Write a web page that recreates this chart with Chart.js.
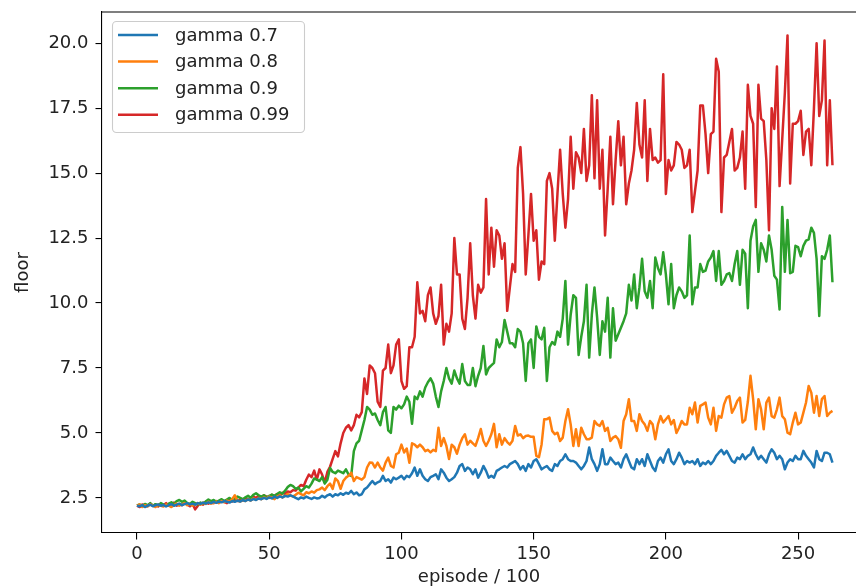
<!DOCTYPE html>
<html>
<head>
<meta charset="utf-8">
<script src="https://cdn.jsdelivr.net/npm/chart.js@4/dist/chart.umd.min.js"></script>
<style>
  html, body { margin: 0; padding: 0; background: #fff; overflow: hidden; }
  #wrap { width: 856px; height: 588px; }
</style>
</head>
<body>
<div id="wrap"><canvas id="c" width="856" height="588"></canvas></div>
<script>
// Mean floor reached per block of 100 episodes, one run per discount factor.
const gamma07 = [
  2.2, 2.18, 2.22, 2.15, 2.2, 2.24, 2.18, 2.22, 2.25, 2.2,
  2.23, 2.17, 2.22, 2.26, 2.2, 2.24, 2.28, 2.22, 2.26, 2.3,
  2.25, 2.28, 2.24, 2.3, 2.27, 2.32, 2.28, 2.33, 2.3, 2.35,
  2.31, 2.36, 2.33, 2.38, 2.35, 2.32, 2.38, 2.35, 2.4, 2.36,
  2.42, 2.38, 2.44, 2.4, 2.46, 2.42, 2.48, 2.45, 2.5, 2.46,
  2.52, 2.48, 2.55, 2.5, 2.56, 2.52, 2.58, 2.55, 2.6, 2.56,
  2.5, 2.45, 2.52, 2.48, 2.55, 2.5, 2.46, 2.52, 2.48, 2.5,
  2.58, 2.52, 2.6, 2.64, 2.55, 2.64, 2.6, 2.68, 2.62, 2.7,
  2.66, 2.77, 2.64, 2.71, 2.6, 2.64, 2.83, 2.9, 3.03, 3.15,
  3.03, 3.1, 3.15, 3.35, 3.15, 3.22, 3.09, 3.28, 3.22, 3.28,
  3.35, 3.22, 3.35, 3.3, 3.45, 3.67, 3.35, 3.6, 3.35, 3.22,
  3.15, 3.3, 3.35, 3.41, 3.22, 3.6, 3.47, 3.28, 3.15, 3.22,
  3.3, 3.47, 3.73, 3.8, 3.54, 3.67, 3.6, 3.41, 3.6, 3.28,
  3.47, 3.73, 3.54, 3.28, 3.35, 3.28, 3.54, 3.6, 3.67, 3.73,
  3.67, 3.8, 3.86, 3.92, 3.8, 3.6, 3.73, 3.54, 3.8, 3.67,
  3.92, 3.99, 3.8, 3.6, 3.67, 3.73, 3.6, 3.54, 3.8, 3.73,
  3.92, 3.99, 4.18, 3.99, 3.92, 3.92, 3.86, 3.73, 3.6, 3.73,
  3.92, 4.44, 3.99, 3.8, 3.54, 3.8, 4.37, 3.8, 3.8, 4.05,
  3.92, 3.8, 3.86, 3.67, 3.99, 4.18, 3.92, 3.67, 3.6, 3.99,
  3.8, 3.99, 3.73, 4.18, 3.92, 3.67, 3.54, 3.92, 4.05, 3.86,
  4.18, 4.37, 3.92, 3.8, 3.99, 4.24, 4.05, 3.8, 3.92, 3.86,
  3.92, 3.8, 3.99, 3.73, 3.86, 3.8, 3.92, 3.8, 3.92, 4.12,
  4.24, 4.35, 4.18, 4.31, 4.12, 3.92, 3.86, 4.05, 3.99, 4.18,
  3.99, 4.12, 4.18, 4.44, 4.18, 3.99, 4.12, 3.99, 3.86, 4.18,
  4.37, 4.24, 3.99, 4.12, 3.99, 3.6, 3.86, 3.99, 3.92, 4.12,
  3.99, 3.99, 4.31, 4.12, 3.99, 3.86, 3.67, 4.31, 3.99, 3.92,
  4.24, 4.24, 4.18, 3.86
];

const gamma08 = [
  2.2, 2.25, 2.15, 2.22, 2.18, 2.26, 2.2, 2.15, 2.24, 2.2,
  2.17, 2.25, 2.2, 2.15, 2.22, 2.28, 2.2, 2.25, 2.3, 2.22,
  2.27, 2.2, 2.25, 2.3, 2.24, 2.32, 2.27, 2.35, 2.28, 2.3,
  2.36, 2.3, 2.38, 2.33, 2.4, 2.35, 2.45, 2.6, 2.4, 2.36,
  2.42, 2.38, 2.45, 2.4, 2.48, 2.43, 2.5, 2.45, 2.52, 2.48,
  2.55, 2.5, 2.45, 2.55, 2.6, 2.52, 2.58, 2.65, 2.6, 2.55,
  2.62, 2.7, 2.65, 2.6, 2.72, 2.68, 2.75, 2.7, 2.8, 2.83,
  2.9, 2.8, 2.95, 3.05, 2.85, 3.25, 3.15, 2.85, 3.15, 3.28,
  3.35, 3.47, 3.15, 3.3, 3.25, 3.2, 3.3, 3.67, 3.86, 3.85,
  3.67, 3.86, 3.67, 3.55, 3.86, 4.05, 3.73, 3.67, 4.18, 4.24,
  4.55, 4.25, 4.4, 3.85, 4.6, 4.55, 4.45, 4.55, 4.45, 4.3,
  4.35, 4.25, 4.35, 4.3, 5.2, 4.5, 4.8, 4.5, 4.0, 4.55,
  4.45, 4.2, 4.55, 4.8, 4.95, 4.55, 4.7, 4.6, 4.5, 4.8,
  5.15, 4.7, 4.5, 4.7, 4.95, 5.35, 4.45, 4.95, 4.55, 4.8,
  4.65, 4.55, 4.7, 5.27, 4.9, 4.95, 4.8, 4.88, 4.9, 4.85,
  4.85, 4.12, 4.07, 4.56, 5.53, 5.53, 5.59, 5.08, 4.95, 5.01,
  4.69, 4.82, 5.46, 5.91, 5.33, 4.5, 5.14, 4.5, 5.2, 4.95,
  4.76, 4.76, 4.82, 5.46, 5.33, 5.27, 5.46, 5.08, 5.2, 4.69,
  4.82, 4.88, 4.76, 4.43, 5.46, 5.72, 6.3, 5.46, 5.46, 5.08,
  5.72, 5.46, 5.33, 5.08, 5.46, 5.33, 4.76, 5.33, 5.65, 5.4,
  5.53, 5.65, 5.33, 5.5, 5.0, 5.2, 5.46, 5.33, 5.33, 5.97,
  5.72, 6.17, 5.4, 6.04, 6.1, 6.17, 5.59, 5.33, 5.97, 5.08,
  5.65, 5.59, 6.1, 6.36, 6.42, 5.78, 5.97, 6.23, 6.36, 5.4,
  5.5, 6.2, 7.2, 6.3, 5.14, 6.3, 5.91, 5.14, 6.17, 6.36,
  5.65, 5.59, 5.91, 6.36, 5.65, 5.53, 5.01, 4.95, 5.4, 5.78,
  5.33, 5.4, 5.78, 6.17, 6.81, 6.55, 5.78, 6.42, 5.65, 6.3,
  6.42, 5.65, 5.78, 5.85
];

const gamma09 = [
  2.2, 2.25, 2.18, 2.27, 2.22, 2.3, 2.2, 2.26, 2.21, 2.3,
  2.24, 2.2, 2.28, 2.33, 2.25, 2.38, 2.42, 2.35, 2.4, 2.3,
  2.27, 2.35, 2.3, 2.25, 2.32, 2.28, 2.36, 2.44, 2.38, 2.42,
  2.35, 2.4, 2.45, 2.38, 2.44, 2.5, 2.42, 2.48, 2.55, 2.5,
  2.45, 2.52, 2.58, 2.5, 2.62, 2.68, 2.6, 2.55, 2.6, 2.52,
  2.58, 2.63, 2.57, 2.65, 2.72, 2.66, 2.78, 2.92, 3.0, 2.95,
  2.85, 2.9, 2.75, 2.85, 2.95, 2.9, 3.05, 3.25, 3.2, 3.15,
  3.3, 3.05, 3.2, 3.65, 3.5, 3.45, 3.55, 3.5, 3.45, 3.6,
  3.4, 3.35, 4.3, 4.6, 4.7, 5.1, 5.5, 6.0, 5.9, 5.7,
  5.75, 5.5, 5.3, 5.8, 6.0, 5.1, 5.0, 6.0, 5.9, 6.05,
  5.95, 6.1, 6.4, 6.2, 5.35, 6.4, 6.3, 6.6, 6.4, 6.75,
  6.95, 7.1, 6.9, 6.4, 6.0, 6.6, 7.0, 7.5, 7.1, 6.9,
  7.4, 7.1, 6.9, 7.65, 7.0, 6.85, 6.85, 7.5, 6.8, 7.2,
  7.5, 8.35, 7.25, 7.5, 7.6, 7.7, 8.6, 8.3, 8.5, 9.35,
  8.9, 8.45, 8.45, 8.3, 9.0, 8.9, 8.45, 7.0, 8.45, 8.6,
  7.5, 9.1, 8.7, 8.6, 9.05, 7.0, 8.3, 8.5, 8.4, 8.9,
  8.7, 9.4, 10.85, 8.4, 9.55, 10.3, 10.2, 8.0, 8.7, 9.3,
  10.7, 7.9, 9.55, 10.6, 9.45, 8.0, 9.3, 8.9, 10.2, 7.9,
  9.8, 8.55, 8.8, 9.05, 9.3, 9.6, 10.7, 10.1, 11.1, 9.8,
  10.6, 11.7, 10.45, 10.2, 10.85, 9.8, 11.75, 11.35, 11.1, 11.95,
  11.1, 9.95, 11.5, 9.8, 10.3, 10.6, 10.45, 10.2, 10.3, 12.6,
  9.95, 10.6, 10.6, 11.5, 11.2, 11.25, 11.6, 11.75, 12.0, 10.85,
  12.0, 10.7, 10.85, 11.1, 11.15, 10.85, 11.5, 12.0, 10.7, 12.05,
  11.9, 9.8, 12.4, 12.95, 13.2, 11.2, 12.3, 12.05, 11.6, 12.6,
  12.05, 11.05, 10.9, 9.75, 13.7, 11.2, 13.2, 11.15, 11.2, 12.2,
  12.15, 11.8, 12.2, 12.4, 12.45, 12.9, 12.7, 11.7, 9.5, 11.8,
  11.7, 12.05, 12.6, 10.8
];

const gamma099 = [
  2.2, 2.15, 2.25, 2.2, 2.18, 2.28, 2.2, 2.24, 2.17, 2.26,
  2.22, 2.3, 2.2, 2.25, 2.32, 2.2, 2.27, 2.22, 2.3, 2.25,
  2.18, 2.28, 2.06, 2.2, 2.3, 2.24, 2.35, 2.28, 2.33, 2.3,
  2.38, 2.32, 2.4, 2.35, 2.3, 2.42, 2.36, 2.45, 2.38, 2.43,
  2.4, 2.5, 2.44, 2.48, 2.55, 2.5, 2.58, 2.52, 2.6, 2.55,
  2.5, 2.62, 2.58, 2.65, 2.6, 2.7, 2.66, 2.75, 2.72, 2.8,
  2.78, 2.9, 3.0, 2.95, 3.2, 3.4, 3.3, 3.55, 3.2, 3.6,
  3.4, 3.1, 3.5, 3.7, 4.0, 4.3, 4.1, 4.6, 5.0, 5.2,
  5.3, 5.1, 5.3, 5.7, 5.6, 5.8, 7.1, 6.5, 7.6, 7.5,
  7.3, 6.2, 6.0, 7.4, 7.5, 8.4, 7.3, 7.6, 8.4, 8.6,
  7.0, 6.7, 6.8, 8.3, 8.3, 8.7, 10.8, 9.6, 9.7, 9.3,
  10.3, 10.6, 9.6, 9.2, 9.5, 10.7, 8.4, 9.2, 8.9, 9.6,
  12.5, 11.1, 11.1, 9.4, 9.0, 10.2, 12.3, 10.3, 9.4, 10.7,
  10.4, 10.6, 14.0, 11.1, 12.9, 11.4, 12.8, 12.6, 11.7, 12.3,
  9.7, 10.6, 11.5, 11.2, 15.2, 16.0, 14.2, 11.1, 12.6, 14.2,
  12.4, 12.8, 10.9, 11.6, 11.5, 14.7, 15.0, 14.4, 12.4, 14.2,
  15.9, 14.2, 12.9, 14.0, 16.4, 14.4, 15.8, 15.6, 15.0, 16.7,
  14.7, 15.3, 18.0, 14.8, 17.8, 14.4, 15.9, 12.6, 14.4, 16.4,
  13.8, 15.5, 17.0, 15.3, 16.4, 13.8, 14.6, 15.1, 15.9, 17.7,
  16.1, 15.6, 17.8, 14.7, 16.7, 15.5, 15.6, 15.4, 15.5, 18.8,
  14.2, 15.5, 15.1, 15.3, 16.2, 16.1, 15.9, 15.2, 15.3, 15.9,
  13.5, 14.3, 15.1, 17.6, 17.6, 16.5, 15.0, 16.5, 16.6, 19.4,
  18.9, 13.5, 15.6, 15.7, 16.2, 16.7, 15.1, 15.2, 15.6, 16.6,
  14.4, 18.4, 17.2, 16.9, 13.7, 18.4, 17.1, 17.0, 15.5, 12.8,
  17.5, 16.7, 19.1, 14.5, 16.3, 18.1, 20.3, 14.6, 16.9, 16.9,
  17.0, 17.4, 15.7, 16.6, 16.7, 15.3, 17.5, 20.0, 17.2, 17.8,
  20.1, 15.3, 17.8, 15.3
];

const seriesLabels = ['gamma 0.7', 'gamma 0.8', 'gamma 0.9', 'gamma 0.99'];
const seriesColors = ['#1f77b4', '#ff7f0e', '#2ca02c', '#d62728'];
const xTicks = [0, 50, 100, 150, 200, 250];
const yTicks = [2.5, 5.0, 7.5, 10.0, 12.5, 15.0, 17.5, 20.0];

// One x position per block of 100 episodes.
const episodes = gamma07.map((_, i) => i);

const FONT = { family: '"DejaVu Sans", sans-serif', size: 18, lineHeight: 1.2 };
const TEXT = '#222';

// Keep the plot area exactly where the layout padding puts it.
function noScalePadding(s) {
  s.paddingTop = 0;
  s.paddingBottom = 0;
  s.paddingLeft = 0;
  s.paddingRight = 0;
}

// Top spine of the plot box (left and bottom come from the axis borders;
// the right spine sits on the canvas edge).
const frame = {
  id: 'frame',
  afterDatasetsDraw(chart) {
    const { ctx, chartArea: a } = chart;
    ctx.save();
    ctx.strokeStyle = '#000';
    ctx.lineWidth = 1.1;
    ctx.beginPath();
    ctx.moveTo(a.left, a.top);
    ctx.lineTo(a.right, a.top);
    ctx.stroke();
    ctx.restore();
  }
};

// Boxed legend in the upper-left corner of the plot.
const cornerLegend = {
  id: 'cornerLegend',
  afterDraw(chart) {
    const { ctx } = chart;
    ctx.save();
    ctx.beginPath();
    ctx.roundRect(112.5, 21.5, 192, 111, 4);
    ctx.fillStyle = 'rgba(255,255,255,0.8)';
    ctx.fill();
    ctx.strokeStyle = '#cccccc';
    ctx.lineWidth = 1.1;
    ctx.stroke();
    ctx.font = '18px "DejaVu Sans", sans-serif';
    ctx.textBaseline = 'middle';
    ctx.textAlign = 'left';
    chart.data.datasets.forEach((ds, i) => {
      const y = 35 + i * 26.6;
      ctx.beginPath();
      ctx.moveTo(118, y);
      ctx.lineTo(158, y);
      ctx.strokeStyle = ds.borderColor;
      ctx.lineWidth = 2.5;
      ctx.stroke();
      ctx.fillStyle = TEXT;
      ctx.fillText(ds.label, 175, y + 1);
    });
    ctx.restore();
  }
};

const seriesValues = [gamma07, gamma08, gamma09, gamma099];

new Chart(document.getElementById('c'), {
  type: 'line',
  data: {
    labels: episodes,
    datasets: seriesValues.map((vals, i) => ({
      label: seriesLabels[i],
      data: vals,
      borderColor: seriesColors[i],
      backgroundColor: seriesColors[i],
      borderWidth: 2.5,
      pointRadius: 0,
      tension: 0,
      borderJoinStyle: 'round',
      fill: false
    }))
  },
  options: {
    responsive: false,
    animation: false,
    devicePixelRatio: 1,
    layout: { padding: { left: 0, top: 12, right: 0, bottom: 0 } },
    plugins: { legend: { display: false }, tooltip: { enabled: false } },
    scales: {
      x: {
        type: 'linear',
        min: -13.24,
        max: 271.9,
        afterBuildTicks: s => { s.ticks = xTicks.map(v => ({ value: v })); },
        afterFit: s => { s.height = 55; noScalePadding(s); },
        ticks: { font: FONT, color: TEXT, padding: 4, maxRotation: 0, autoSkip: false,
                 callback: v => String(v) },
        grid: { drawOnChartArea: false, drawTicks: true, tickLength: 6.5, color: '#000', lineWidth: 1.1 },
        border: { display: true, color: '#000', width: 1.1 },
        title: { display: true, text: 'episode / 100', font: FONT, color: TEXT, padding: { top: 0, bottom: 0 } }
      },
      y: {
        min: 1.15,
        max: 21.2,
        afterBuildTicks: s => { s.ticks = yTicks.map(v => ({ value: v })); },
        afterFit: s => { s.width = 102; noScalePadding(s); },
        ticks: { font: FONT, color: TEXT, padding: 7, callback: v => Number(v).toFixed(1) },
        grid: { drawOnChartArea: false, drawTicks: true, tickLength: 6.5, color: '#000', lineWidth: 1.1 },
        border: { display: true, color: '#000', width: 1.1 },
        title: { display: true, text: 'floor', font: FONT, color: TEXT, padding: { top: 13, bottom: 0 } }
      }
    }
  },
  plugins: [frame, cornerLegend]
});
</script>
</body>
</html>
